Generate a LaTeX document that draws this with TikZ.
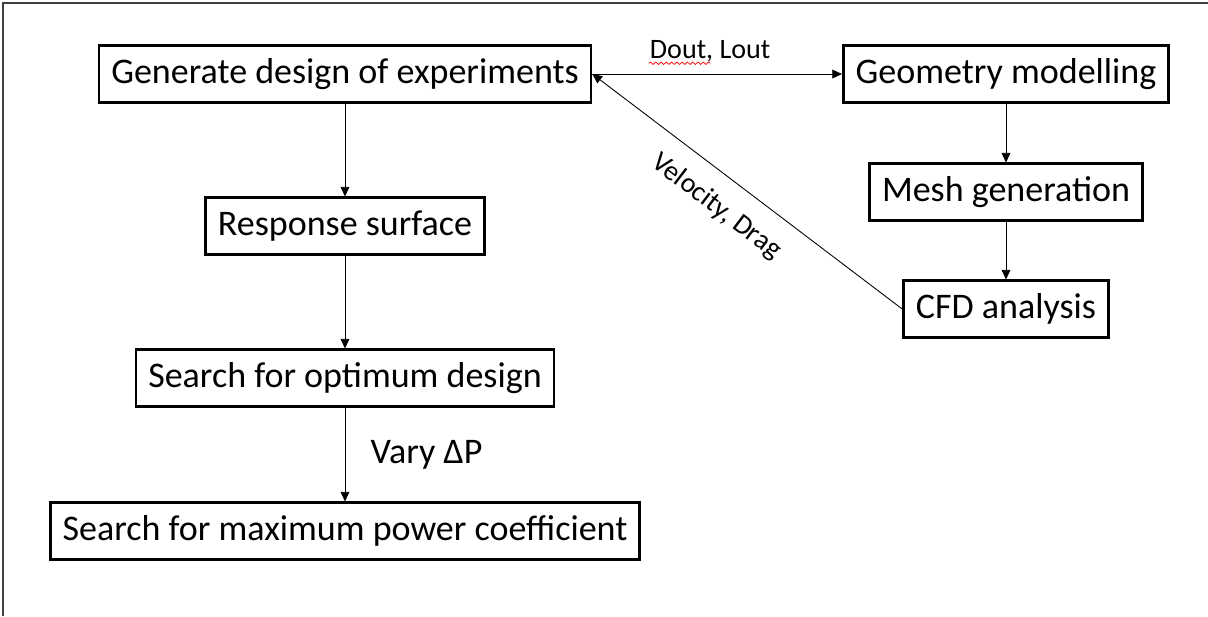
\documentclass[tikz,border=0pt]{standalone}
\usepackage{fontspec}
\setmainfont{Carlito}
\usetikzlibrary{arrows.meta,calc,decorations.pathmorphing}

\tikzset{
  stepbox/.style={draw, line width=1.6pt, minimum height=32pt, inner xsep=7pt,
    font=\fontsize{20.5}{24}\selectfont},
  flow/.style={-{Triangle[length=5.5pt,width=5pt]}, line width=0.5pt},
  flowlabel/.style={font=\fontsize{16}{19}\selectfont}
}

\begin{document}
\begin{tikzpicture}[x=0.02cm,y=-0.02cm]
    \useasboundingbox (0,0) rectangle (1208,616);
    % page frame
    \draw[line width=1pt, black!75] (1208,3) -- (3,3) -- (3,616);

    % left column
    \node[stepbox] (doe) at (345,74) {Generate design of experiments};
    \node[stepbox] (resp) at (345,226) {Response surface};
    \node[stepbox] (opt) at (345,378) {Search for optimum design};
    \node[stepbox] (pmax) at (345,531) {Search for maximum power coefficient};

    % right column
    \node[stepbox] (geom) at (1006,74) {Geometry modelling};
    \node[stepbox] (mesh) at (1006,192) {Mesh generation};
    \node[stepbox] (cfd) at (1006,309) {CFD analysis};

    \draw[flow] (doe) -- (geom) node[midway, above=3pt, xshift=-4pt, flowlabel] (dl) {Dout, Lout};
    \draw[red, line width=0.4pt, decorate, decoration={snake, amplitude=0.7pt, segment length=3pt}]
        ($(dl.base west)+(3pt,-2.5pt)$) -- ($(dl.base west)+(38pt,-2.5pt)$);
    \draw[flow] (cfd.west) -- (doe.east) node[pos=0.54, sloped, below=7pt, flowlabel] {Velocity, Drag};

    \draw[flow] (geom) -- (mesh);
    \draw[flow] (mesh) -- (cfd);

    \draw[flow] (doe) -- (resp);
    \draw[flow] (resp) -- (opt);
    \draw[flow] (opt) -- (pmax) node[midway, right, xshift=11pt, font=\fontsize{20.5}{24}\selectfont] {Vary ΔP};
\end{tikzpicture}
\end{document}
